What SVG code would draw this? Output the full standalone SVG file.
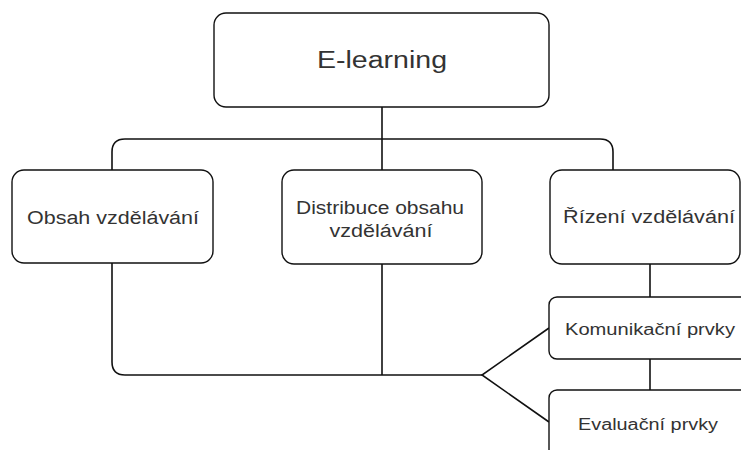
<svg xmlns="http://www.w3.org/2000/svg" width="741" height="450" viewBox="0 0 741 450">
<style>
.box{fill:#fff;stroke:#111;stroke-width:1.4}
.ln{fill:none;stroke:#111;stroke-width:1.6}
text{font-family:"Liberation Sans",Arial,sans-serif;fill:#333;text-anchor:middle}
.t1{font-size:23px}
.t2{font-size:18px}
.t3{font-size:16px}
</style>
<rect width="741" height="450" fill="#fff"/>
<g id="connectors">
<path class="ln" d="M382,107 V170"/>
<path class="ln" d="M112,170 V152 Q112,139 125,139 H600 Q613,139 613,152 V170"/>
<path class="ln" d="M112,263 V362 Q112,375 125,375 H482"/>
<path class="ln" d="M382,264 V375"/>
<path class="ln" d="M549,328 L482,375 L549,422"/>
<path class="ln" d="M650,264 V297"/>
<path class="ln" d="M650,359 V390"/>
</g>
<g id="elearning">
<rect class="box" x="214" y="13" width="335" height="94" rx="12"/>
<text class="t1" x="382" y="68" textLength="130" lengthAdjust="spacingAndGlyphs">E-learning</text>
</g>
<g id="obsah">
<rect class="box" x="12" y="170" width="201" height="93" rx="12"/>
<text class="t2" x="113" y="224" textLength="172" lengthAdjust="spacingAndGlyphs">Obsah vzdělávání</text>
</g>
<g id="distribuce">
<rect class="box" x="282" y="170" width="200" height="94" rx="12"/>
<text class="t2" x="380" y="214" textLength="168" lengthAdjust="spacingAndGlyphs">Distribuce obsahu</text>
<text class="t2" x="381" y="237" textLength="103" lengthAdjust="spacingAndGlyphs">vzdělávání</text>
</g>
<g id="rizeni">
<rect class="box" x="550" y="170" width="190" height="94" rx="12"/>
<text class="t2" x="649" y="223" textLength="172" lengthAdjust="spacingAndGlyphs">Řízení vzdělávání</text>
</g>
<g id="komunikacni">
<rect class="box" x="549" y="297" width="202" height="62" rx="8"/>
<text class="t3" x="650" y="335" textLength="170" lengthAdjust="spacingAndGlyphs">Komunikační prvky</text>
</g>
<g id="evaluacni">
<rect class="box" x="549" y="390" width="202" height="80" rx="8"/>
<text class="t3" x="648" y="430" textLength="140" lengthAdjust="spacingAndGlyphs">Evaluační prvky</text>
</g>
</svg>
